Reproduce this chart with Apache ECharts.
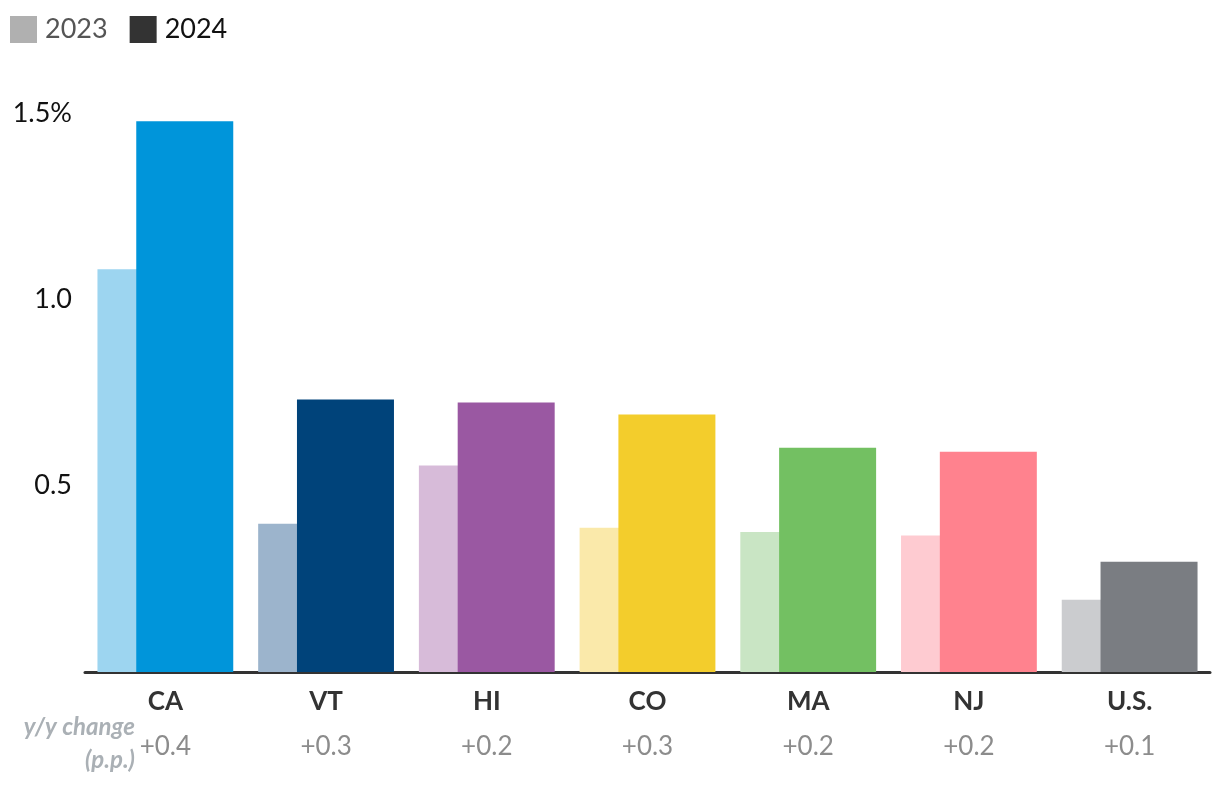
<!DOCTYPE html>
<html>
<head>
<meta charset="utf-8">
<script src="https://cdn.jsdelivr.net/npm/echarts@6/dist/echarts.min.js"></script>
<style>html,body{margin:0;padding:0;background:#fff;}#c{width:1220px;height:792px;}</style>
</head>
<body>
<div id="c"></div>
<script>
const categories = ['CA', 'VT', 'HI', 'CO', 'MA', 'NJ', 'U.S.'];
const changes = ['+0.4', '+0.3', '+0.2', '+0.3', '+0.2', '+0.2', '+0.1'];
const values2023 = [1.081, 0.398, 0.554, 0.387, 0.376, 0.366, 0.194];
const values2024 = [1.478, 0.731, 0.723, 0.691, 0.602, 0.591, 0.296];
const colors2023 = ['#9dd5f0', '#9cb4cc', '#d7bbd9', '#fae9aa', '#c9e5c4', '#fecbd1', '#cbcccf'];
const colors2024 = ['#0095da', '#00437a', '#9a58a2', '#f3cd2c', '#73c062', '#ff828e', '#7a7d82'];
const yTicks = [0.5, 1.0, 1.5];

const FONT = 'Lato, "Open Sans", sans-serif';
const chart = echarts.init(document.getElementById('c'), null, {renderer: 'canvas'});
chart.setOption({
  animation: false,
  backgroundColor: '#ffffff',
  textStyle: {fontFamily: FONT},
  legend: {
    left: 10, top: 16, padding: 0,
    itemWidth: 27, itemHeight: 27, itemGap: 22,
    icon: 'rect',
    textStyle: {fontSize: 27, fontFamily: FONT, padding: [0, 0, 0, 3]},
    data: [
      {name: '2023', textStyle: {color: '#555555'}},
      {name: '2024', textStyle: {color: '#111111'}}
    ]
  },
  grid: {left: 85, right: 10, top: 113, bottom: 120, containLabel: false},
  xAxis: {
    type: 'category',
    data: categories,
    axisLine: {show: true, lineStyle: {color: '#333333', width: 3}},
    axisTick: {show: false},
    axisLabel: {
      interval: 0,
      margin: 8,
      formatter: (v, i) => '{c|' + v + '}\n{d|' + changes[i] + '}',
      rich: {
        c: {fontSize: 26, fontWeight: 'bold', color: '#333333', fontFamily: FONT, lineHeight: 44},
        d: {fontSize: 26, color: '#8c8c8c', fontFamily: FONT, lineHeight: 46}
      }
    }
  },
  yAxis: {
    type: 'value',
    min: 0, max: 1.5, interval: 0.5,
    axisLine: {show: false},
    axisTick: {show: false},
    splitLine: {show: false},
    axisLabel: {
      margin: 13,
      fontSize: 27,
      color: '#111111',
      fontFamily: FONT,
      formatter: v => {
        if (v === 0) return '';
        const t = yTicks.find(x => Math.abs(x - v) < 1e-9);
        if (t === undefined) return '';
        return t === 1.5 ? t.toFixed(1) + '%' : t.toFixed(1);
      }
    }
  },
  graphic: [
    {type: 'text', style: {x: 135, y: 727, text: 'y/y change', textAlign: 'right', textVerticalAlign: 'middle', fontSize: 24, fontWeight: 'bold', fontStyle: 'italic', fill: '#aab0b5', fontFamily: FONT}},
    {type: 'text', style: {x: 135, y: 760, text: '(p.p.)', textAlign: 'right', textVerticalAlign: 'middle', fontSize: 24, fontWeight: 'bold', fontStyle: 'italic', fill: '#aab0b5', fontFamily: FONT}}
  ],
  series: [
    {
      name: '2023', type: 'bar', barWidth: 97, barGap: '-60%',
      itemStyle: {color: '#b0b0b0'},
      data: values2023.map((v, i) => ({value: v, itemStyle: {color: colors2023[i]}}))
    },
    {
      name: '2024', type: 'bar', barWidth: 97, barGap: '-60%',
      itemStyle: {color: '#333333'},
      data: values2024.map((v, i) => ({value: v, itemStyle: {color: colors2024[i]}}))
    }
  ]
});
</script>
</body>
</html>
